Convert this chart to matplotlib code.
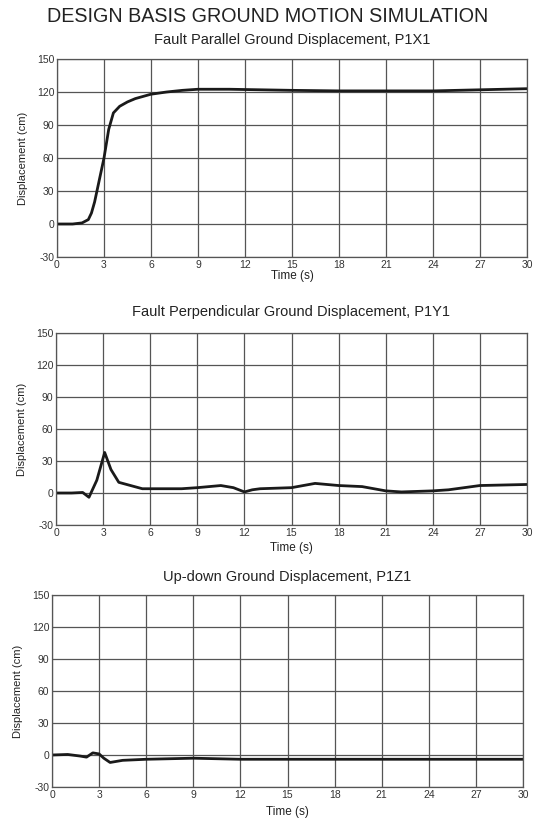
import matplotlib
matplotlib.use("Agg")
import matplotlib.pyplot as plt
import numpy as np

plt.rcParams['font.family'] = ['Liberation Sans', 'DejaVu Sans']
plt.rcParams['axes.unicode_minus'] = False

main_title = "DESIGN BASIS GROUND MOTION SIMULATION"
titles = ["Fault Parallel Ground Displacement, P1X1",
          "Fault Perpendicular Ground Displacement, P1Y1",
          "Up-down Ground Displacement, P1Z1"]
x_ticks = [0, 3, 6, 9, 12, 15, 18, 21, 24, 27, 30]
y_ticks = [-30, 0, 30, 60, 90, 120, 150]

# P1X1
t_x = [0, 1.0, 1.6, 2.0, 2.2, 2.4, 2.7, 3.0, 3.3, 3.6, 4.0, 4.5, 5.0, 6.0, 7.0, 8.0, 9.0, 11.0, 13.0, 15.0, 18.0, 21.0, 24.0, 27.0, 30.0]
d_x = [0, 0, 1, 4, 10, 20, 40, 60, 86, 101, 107, 111, 114, 118, 120, 121.5, 122.5, 122.5, 122, 121.5, 121, 121, 121, 122, 123]

# P1Y1
t_y = [0, 1.0, 1.7, 2.1, 2.6, 3.1, 3.5, 4.0, 5.0, 5.5, 6.0, 8.0, 9.0, 10.5, 11.3, 12.0, 12.5, 13.0, 15.0, 16.5, 18.0, 19.5, 21.0, 22.0, 24.0, 25.0, 27.0, 30.0]
d_y = [0, 0, 0.5, -4, 12, 38, 22, 10, 6, 4, 4, 4, 5, 7, 5, 1, 3, 4, 5, 9, 7, 6, 2, 1, 2, 3, 7, 8]

# P1Z1
t_z = [0, 1.0, 1.8, 2.2, 2.6, 3.0, 3.3, 3.7, 4.5, 6.0, 9.0, 12.0, 15.0, 20.0, 25.0, 30.0]
d_z = [0, 0.5, -1, -2, 2, 1, -3, -7, -5, -4, -3, -4, -4, -4, -4, -4]

series = [(t_x, d_x), (t_y, d_y), (t_z, d_z)]
rects = [
    [57/535, 1-257/823, 470/535, 198/823],
    [56/535, 1-525/823, 471/535, 192/823],
    [52/535, 1-787/823, 471/535, 192/823],
]
title_y = [40, 312, 577]
xlabel_y = [276, 548, 812]

fig = plt.figure(figsize=(5.35, 8.23), dpi=100)
fig.text(0.5, 1-16/823, main_title, ha='center', va='center', fontsize=14.2, color='#222222')

for i, (rect, (t, d)) in enumerate(zip(rects, series)):
    ax = fig.add_axes(rect)
    ax.plot(t, d, color='#1a1a1a', lw=2.0)
    ax.set_xlim(0, 30)
    ax.set_ylim(-30, 150)
    ax.set_xticks(x_ticks)
    ax.set_yticks(y_ticks)
    ax.grid(True, color='#555555', lw=0.9)
    for s in ax.spines.values():
        s.set_color('#555555')
        s.set_linewidth(0.9)
    ax.tick_params(labelsize=7.5, length=0, pad=2, colors='#333333')
    ax.set_ylabel("Displacement (cm)", fontsize=8, color='#222222', labelpad=6)
    fig.text(rect[0] + rect[2]/2, 1-title_y[i]/823, titles[i], ha='center', va='center', fontsize=10.5, color='#222222')
    fig.text(rect[0] + rect[2]/2, 1-xlabel_y[i]/823, "Time (s)", ha='center', va='center', fontsize=8.5, color='#222222')

fig.savefig("out.png", dpi=100)
